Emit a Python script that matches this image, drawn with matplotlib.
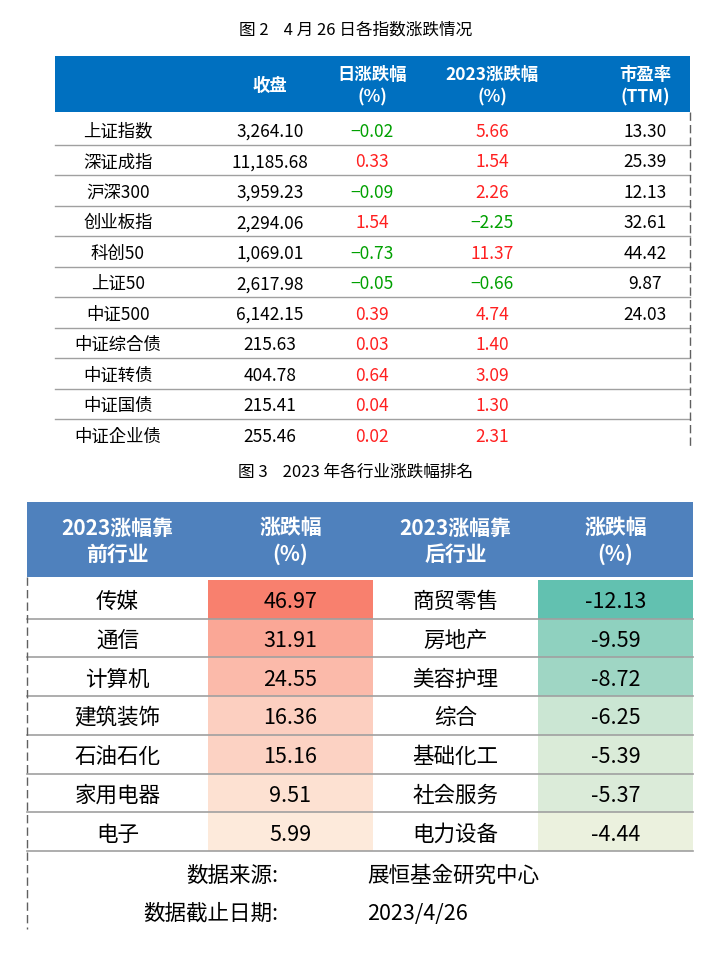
import matplotlib
matplotlib.use("Agg")
import matplotlib.pyplot as plt
from matplotlib import font_manager
from matplotlib.colors import LinearSegmentedColormap, Normalize
from matplotlib.patches import Rectangle

cjk = None
for f in font_manager.fontManager.ttflist:
    if 'CJK' in f.name and ('SC' in f.name or cjk is None):
        cjk = f.name
        if 'SC' in f.name:
            break
if cjk is None:
    import glob
    for p in glob.glob('/usr/share/fonts/**/*CJK*', recursive=True):
        try:
            font_manager.fontManager.addfont(p)
        except Exception:
            pass
    for f in font_manager.fontManager.ttflist:
        if 'CJK' in f.name:
            cjk = f.name
            break
plt.rcParams['font.family'] = [cjk or 'Noto Sans CJK SC', 'DejaVu Sans']

title1 = "图 2    4 月 26 日各指数涨跌情况"
title2 = "图 3    2023 年各行业涨跌幅排名"
headers1 = ["", "收盘", "日涨跌幅\n(%)", "2023涨跌幅\n(%)", "市盈率\n(TTM)"]
names1 = ["上证指数", "深证成指", "沪深300", "创业板指", "科创50", "上证50", "中证500",
          "中证综合债", "中证转债", "中证国债", "中证企业债"]
close1 = ["3,264.10", "11,185.68", "3,959.23", "2,294.06", "1,069.01", "2,617.98",
          "6,142.15", "215.63", "404.78", "215.41", "255.46"]
daily1 = [-0.02, 0.33, -0.09, 1.54, -0.73, -0.05, 0.39, 0.03, 0.64, 0.04, 0.02]
ytd1 = [5.66, 1.54, 2.26, -2.25, 11.37, -0.66, 4.74, 1.40, 3.09, 1.30, 2.31]
pe1 = ["13.30", "25.39", "12.13", "32.61", "44.42", "9.87", "24.03", "", "", "", ""]

headers2 = ["2023涨幅靠\n前行业", "涨跌幅\n(%)", "2023涨幅靠\n后行业", "涨跌幅\n(%)"]
top_ind = ["传媒", "通信", "计算机", "建筑装饰", "石油石化", "家用电器", "电子"]
top_val = [46.97, 31.91, 24.55, 16.36, 15.16, 9.51, 5.99]
bot_ind = ["商贸零售", "房地产", "美容护理", "综合", "基础化工", "社会服务", "电力设备"]
bot_val = [-12.13, -9.59, -8.72, -6.25, -5.39, -5.37, -4.44]
footer = [("数据来源:", "展恒基金研究中心"), ("数据截止日期:", "2023/4/26")]

fig = plt.figure(figsize=(7.12, 9.62), dpi=100)
ax = fig.add_axes([0, 0, 1, 1])
ax.set_xlim(0, 712); ax.set_ylim(962, 0); ax.axis('off')

ax.text(356, 30, title1, ha='center', va='center', fontsize=12)
# Table 1
x0, x1 = 55, 690
ax.add_patch(Rectangle((x0, 57), x1 - x0, 56, color='#0070c0', lw=0))
cx1 = [118, 270, 372, 492, 645]
for c, h in zip(cx1, headers1):
    ax.text(c, 86, h, ha='center', va='center', color='white', fontsize=12.5,
            fontweight='bold', linespacing=1.3)
rh = 30.5
top = 115
for i in range(len(names1)):
    yc = top + rh * (i + 0.55)
    ax.text(cx1[0], yc, names1[i], ha='center', va='center', fontsize=12.5)
    ax.text(cx1[1], yc, close1[i], ha='center', va='center', fontsize=12.5)
    ax.text(cx1[2], yc, f"{daily1[i]:.2f}".replace('-', '−'), ha='center', va='center',
            fontsize=12.5, color='#00a000' if daily1[i] < 0 else '#ff2020')
    ax.text(cx1[3], yc, f"{ytd1[i]:.2f}".replace('-', '−'), ha='center', va='center',
            fontsize=12.5, color='#00a000' if ytd1[i] < 0 else '#ff2020')
    ax.text(cx1[4], yc, pe1[i], ha='center', va='center', fontsize=12.5)
    if i < len(names1) - 1:
        ax.plot([x0, x1], [top + rh * (i + 1)] * 2, color='#a0a0a0', lw=1)
ax.plot([x1, x1], [113, 448], color='#606060', lw=1, ls=(0, (6, 3)))

ax.text(356, 472, title2, ha='center', va='center', fontsize=12)
# Table 2
X0, X1 = 27, 693
ax.add_patch(Rectangle((X0, 503), X1 - X0, 75, color='#4f81bd', lw=0))
edges = [27, 208, 373, 538, 693]
cx2 = [(edges[i] + edges[i + 1]) / 2 for i in range(4)]
for c, h in zip(cx2, headers2):
    ax.text(c, 541, h, ha='center', va='center', color='white', fontsize=15,
            fontweight='bold', linespacing=1.3)
red = LinearSegmentedColormap.from_list('r', ['#fdeadb', '#f8806e'])
grn = LinearSegmentedColormap.from_list('g', ['#ebf1de', '#62c1b0'])
rn = Normalize(min(top_val), max(top_val))
gn = Normalize(-max(bot_val), -min(bot_val))
t2, rh2 = 581, 38.7
for i in range(7):
    y = t2 + rh2 * i
    yc = y + rh2 / 2 + 2
    ax.add_patch(Rectangle((edges[1], y), edges[2] - edges[1], rh2, color=red(rn(top_val[i])), lw=0))
    ax.add_patch(Rectangle((edges[3], y), edges[4] - edges[3], rh2, color=grn(gn(-bot_val[i])), lw=0))
    ax.text(cx2[0], yc, top_ind[i], ha='center', va='center', fontsize=15.5)
    ax.text(cx2[1], yc, f"{top_val[i]:.2f}", ha='center', va='center', fontsize=15.5)
    ax.text(cx2[2], yc, bot_ind[i], ha='center', va='center', fontsize=15.5)
    ax.text(cx2[3], yc, f"{bot_val[i]:.2f}", ha='center', va='center', fontsize=15.5)
    ax.plot([X0, X1], [y + rh2] * 2, color='#a0a0a0', lw=1.2)
ax.plot([X0, X0], [578, 930], color='#606060', lw=1, ls=(0, (6, 3)))
for j, (a, b) in enumerate(footer):
    yc = 876 + 38 * j
    ax.text(278, yc, a, ha='right', va='center', fontsize=15.5)
    ax.text(367, yc, b, ha='left', va='center', fontsize=15.5)

fig.savefig("out.png", dpi=100)
